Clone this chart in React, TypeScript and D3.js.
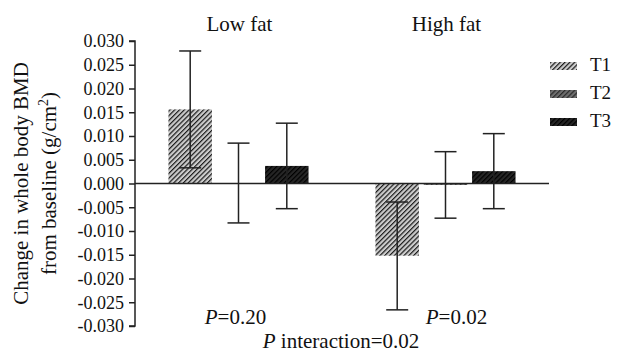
import React, { useEffect, useRef } from 'react';
import * as d3 from 'd3';

const groups = ['Low fat', 'High fat'];
const series = ['T1', 'T2', 'T3'];
const pLabels = ['P=0.20', 'P=0.02'];
const yTicks = [0.03, 0.025, 0.02, 0.015, 0.01, 0.005, 0, -0.005, -0.01, -0.015, -0.02, -0.025, -0.03];

// mean change per group, T1..T3
const lowFatMeans = [0.0156, 0.0, 0.0037];
const highFatMeans = [-0.0152, -0.0003, 0.0026];
// error bar ends [lower, upper]
const lowFatErr: Array<[number, number]> = [[0.0033, 0.0279], [-0.0083, 0.0085], [-0.0053, 0.0127]];
const highFatErr: Array<[number, number]> = [[-0.0266, -0.0039], [-0.0073, 0.0067], [-0.0053, 0.0105]];

const fills = ['#cccccc', '#6e6e6e', '#262626'];
const stripes = ['#1a1a1a', '#2a2a2a', '#000000'];

const FONT = 'Liberation Serif';

interface BarDatum {
  group: string;
  serie: string;
  idx: number;
  value: number;
  err: [number, number];
}

export default function App() {
  const svgRef = useRef<SVGSVGElement>(null);

  useEffect(() => {
    if (!svgRef.current) return;
    const svg = d3.select(svgRef.current);
    svg.selectAll('*').remove();

    const width = 617;
    const height = 354;
    const axisX = 135;
    const plotRight = 549;

    const yScale = d3.scaleLinear().domain([-0.03, 0.03]).range([326, 41]);

    const x0 = d3.scaleBand<string>()
      .domain(groups)
      .range([axisX, plotRight])
      .paddingInner(0.3)
      .paddingOuter(0.15);

    const x1 = d3.scaleBand<string>()
      .domain(series)
      .range([0, x0.bandwidth()])
      .paddingInner(0.1)
      .paddingOuter(0.05);

    const data: BarDatum[] = [];
    series.forEach((s, i) => {
      data.push({ group: groups[0], serie: s, idx: i, value: lowFatMeans[i], err: lowFatErr[i] });
      data.push({ group: groups[1], serie: s, idx: i, value: highFatMeans[i], err: highFatErr[i] });
    });

    // hatch patterns
    const defs = svg.append('defs');
    series.forEach((s, i) => {
      const p = defs.append('pattern')
        .attr('id', `hatch-${s}`)
        .attr('patternUnits', 'userSpaceOnUse')
        .attr('width', 3.4)
        .attr('height', 3.4)
        .attr('patternTransform', 'rotate(45)');
      p.append('rect')
        .attr('width', 3.4)
        .attr('height', 3.4)
        .attr('fill', fills[i]);
      p.append('rect')
        .attr('x', 0)
        .attr('width', 1.2)
        .attr('height', 3.4)
        .attr('fill', stripes[i]);
    });

    svg.append('rect')
      .attr('width', width)
      .attr('height', height)
      .attr('fill', '#ffffff');

    // y axis
    svg.append('g')
      .attr('transform', `translate(${axisX},0)`)
      .call(d3.axisLeft(yScale).tickValues(yTicks).tickSize(6).tickPadding(5)
        .tickFormat((d: any) => d3.format('.3f')(d as number).replace('−', '-')))
      .call((g: any) => g.attr('font-family', FONT).attr('font-size', 18))
      .call((g: any) => g.select('.domain').attr('stroke', '#222').attr('stroke-width', 1.5)
        .attr('d', `M-6,${yScale(0.03)}H0V${yScale(-0.03)}H-6`))
      .call((g: any) => g.selectAll('line').attr('stroke', '#222').attr('stroke-width', 1.5))
      .call((g: any) => g.selectAll('text').attr('fill', '#111'));

    // bars
    svg.append('g')
      .selectAll('rect')
      .data(data)
      .enter()
      .append('rect')
      .attr('x', (d: BarDatum) => (x0(d.group) as number) + (x1(d.serie) as number))
      .attr('y', (d: BarDatum) => yScale(Math.max(0, d.value)))
      .attr('width', x1.bandwidth())
      .attr('height', (d: BarDatum) => Math.abs(yScale(d.value) - yScale(0)))
      .attr('fill', (d: BarDatum) => `url(#hatch-${d.serie})`);

    // zero line
    svg.append('line')
      .attr('x1', axisX)
      .attr('x2', plotRight)
      .attr('y1', yScale(0))
      .attr('y2', yScale(0))
      .attr('stroke', '#222')
      .attr('stroke-width', 1.5);

    // error bars
    const cap = 11;
    const eb = svg.append('g')
      .attr('stroke', '#222')
      .attr('stroke-width', 1.5)
      .attr('fill', 'none');
    data.forEach((d) => {
      const cx = (x0(d.group) as number) + (x1(d.serie) as number) + x1.bandwidth() / 2;
      eb.append('line')
        .attr('x1', cx).attr('x2', cx)
        .attr('y1', yScale(d.err[0])).attr('y2', yScale(d.err[1]));
      d.err.forEach((v) => {
        eb.append('line')
          .attr('x1', cx - cap).attr('x2', cx + cap)
          .attr('y1', yScale(v)).attr('y2', yScale(v));
      });
    });

    const txt = svg.append('g')
      .attr('font-family', FONT)
      .attr('font-size', 21)
      .attr('fill', '#111');

    // group titles
    groups.forEach((g) => {
      txt.append('text')
        .attr('x', (x0(g) as number) + x0.bandwidth() / 2 + 1)
        .attr('y', 31)
        .attr('text-anchor', 'middle')
        .text(g);
    });

    // P values
    pLabels.forEach((lbl, i) => {
      const t = txt.append('text')
        .attr('x', (x0(groups[i]) as number) + x0.bandwidth() / 2 + (i === 0 ? -3 : 11))
        .attr('y', 324)
        .attr('text-anchor', 'middle');
      t.append('tspan').attr('font-style', 'italic').text('P');
      t.append('tspan').text(lbl.slice(1));
    });

    const pi = txt.append('text')
      .attr('x', (axisX + plotRight) / 2 - 1)
      .attr('y', 348)
      .attr('text-anchor', 'middle');
    pi.append('tspan').attr('font-style', 'italic').text('P');
    pi.append('tspan').text(' interaction=0.02');

    // y axis label
    const yl = txt.append('text')
      .attr('transform', `translate(28,${yScale(0)}) rotate(-90)`)
      .attr('text-anchor', 'middle');
    yl.append('tspan').attr('x', 0).attr('y', 0).text('Change in whole body BMD');
    const l2 = yl.append('tspan').attr('x', 0).attr('y', 28);
    l2.append('tspan').text('from baseline (g/cm');
    l2.append('tspan').attr('dy', -8).attr('font-size', 14).text('2');
    l2.append('tspan').attr('dy', 8).text(')');

    // legend
    const legend = txt.append('g').attr('transform', 'translate(550,62)');
    series.forEach((s, i) => {
      const row = legend.append('g').attr('transform', `translate(0,${i * 28})`);
      row.append('rect')
        .attr('width', 27)
        .attr('height', 8)
        .attr('fill', `url(#hatch-${s})`);
      row.append('text')
        .attr('x', 40)
        .attr('y', 9)
        .attr('font-size', 19)
        .text(s);
    });
  }, []);

  return (
    <svg
      ref={svgRef}
      width={617}
      height={354}
      style={{ position: 'absolute', left: 0, top: 0, display: 'block', fontFamily: 'Liberation Serif' }}
    />
  );
}
